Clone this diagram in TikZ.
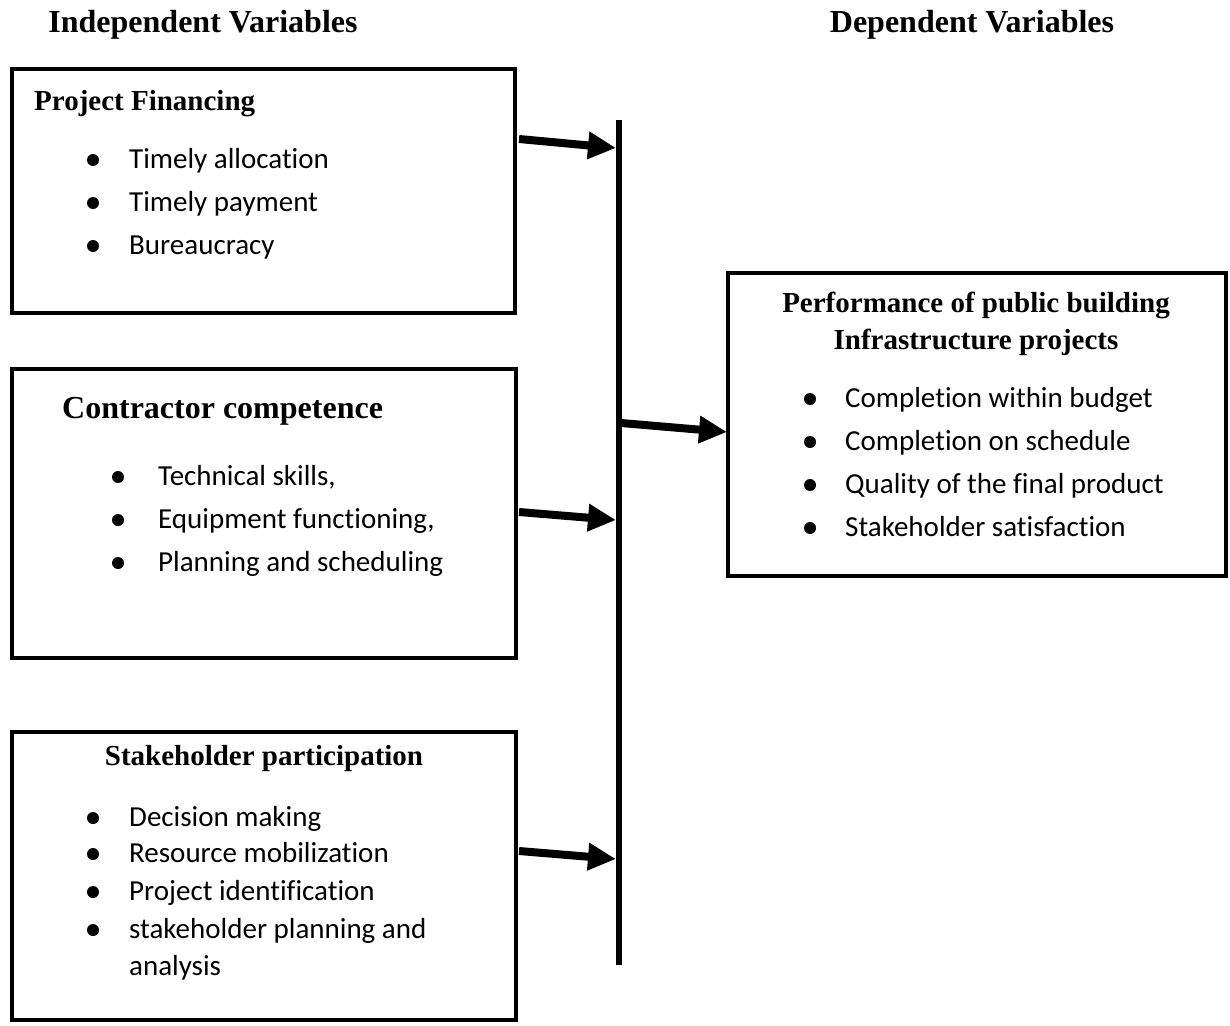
\documentclass[tikz,border=0pt]{standalone}
\usepackage{fontspec}
\setmainfont{Liberation Serif}
\newfontfamily\itemfont[Ligatures=NoCommon]{Carlito}
\usetikzlibrary{arrows.meta}
\begin{document}
\begin{tikzpicture}[x=1pt,y=-1pt,
  box/.style={draw,line width=4pt,inner sep=0pt},
  head/.style={font=\fontsize{29}{34}\selectfont\bfseries,inner sep=0pt},
  bighead/.style={font=\fontsize{32}{38}\selectfont\bfseries,inner sep=0pt},
  itm/.style={font=\fontsize{29}{34}\itemfont,anchor=base west,inner sep=0pt},
  bul/.style={circle,fill,inner sep=0pt,minimum size=12pt},
  arr/.style={line width=8pt,-{Triangle[length=28pt,width=26pt]}},
  bar/.style={line width=6pt}]
\useasboundingbox (0,0) rectangle (1230,1025);

% column titles
\node[bighead,anchor=base] (lt) at (203,33) {Independent Variables};
\node[bighead,anchor=base] (rt) at (972,33) {Dependent Variables};

% independent variable boxes
\node[box,minimum width=503,minimum height=244] (pf) at (263.5,191) {};
\node[box,minimum width=504,minimum height=289] (cc) at (264,513.5) {};
\node[box,minimum width=504,minimum height=288] (sp) at (264,876) {};
% dependent variable box
\node[box,minimum width=498,minimum height=303] (pp) at (977,424.5) {};

% Project Financing
\node[head,anchor=base west] (pfh) at (34,110) {Project Financing};
\foreach \t [count=\i] in {Timely allocation,Timely payment,Bureaucracy}{
  \node[bul] (pfb\i) at (93,{168+43*(\i-1)-8}) {};
  \node[itm] (pfi\i) at (129,{168+43*(\i-1)}) {\t};
}

% Contractor competence
\node[bighead,anchor=base west] (cch) at (62,418) {Contractor competence};
\foreach \t [count=\i] in {Technical skills{,},Equipment functioning{,},Planning and scheduling}{
  \node[bul] (ccb\i) at (118,{485+43*(\i-1)-8}) {};
  \node[itm] (cci\i) at (158,{485+43*(\i-1)}) {\t};
}

% Stakeholder participation
\node[head,anchor=base] (sph) at (264,765) {Stakeholder participation};
\foreach \t/\y [count=\i] in {Decision making/826,Resource mobilization/862,Project identification/900,stakeholder planning and/938}{
  \node[bul] (spb\i) at (93,{\y-8}) {};
  \node[itm] (spi\i) at (129,\y) {\t};
}
\node[itm] (spi5) at (129,975) {analysis};

% Performance box
\node[head,anchor=base] (pph1) at (976,312) {Performance of public building};
\node[head,anchor=base] (pph2) at (976,349) {Infrastructure projects};
\foreach \t [count=\i] in {Completion within budget,Completion on schedule,Quality of the final product,Stakeholder satisfaction}{
  \node[bul] (ppb\i) at (810,{407+43*(\i-1)-8}) {};
  \node[itm] (ppi\i) at (845,{407+43*(\i-1)}) {\t};
}

% collecting bar
\coordinate (bt) at (619,120);
\coordinate (bb) at (619,965);
\draw[bar] (bt) -- (bb);

% arrow ends
\coordinate (a1s) at (519,139);  \coordinate (a1e) at (616,148);
\coordinate (a2s) at (621,423);  \coordinate (a2e) at (727,432);
\coordinate (a3s) at (519,512);  \coordinate (a3e) at (616,520);
\coordinate (a4s) at (519,851);  \coordinate (a4e) at (616,859);
\draw[arr] (a1s) -- (a1e);
\draw[arr] (a2s) -- (a2e);
\draw[arr] (a3s) -- (a3e);
\draw[arr] (a4s) -- (a4e);
\end{tikzpicture}
\end{document}
